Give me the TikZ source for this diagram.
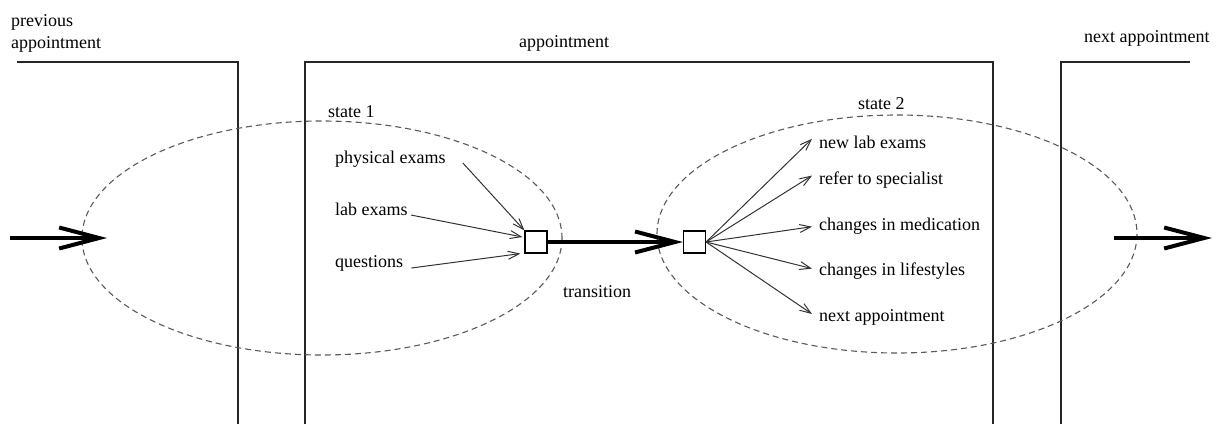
\documentclass[tikz,border=0pt]{standalone}
\usepackage{fontspec}
\setmainfont{Liberation Serif}
\usetikzlibrary{arrows.meta}
\begin{document}
\begin{tikzpicture}[x=1pt,y=-1pt,
  lbl/.style={anchor=base west, inner sep=0pt, font=\fontsize{18}{20}\selectfont, text=black},
  frame/.style={line width=1.4pt, draw=black!85},
  region/.style={dash pattern=on 6pt off 4pt, line width=1.1pt, draw=black!65},
  gate/.style={draw, line width=1.2pt, minimum size=22pt, inner sep=0pt, fill=white},
  thinarrow/.style={line width=1pt, draw=black!80, -{Straight Barb[length=11pt,width=8pt]}},
  flow/.style={line width=4pt, -{Straight Barb[length=40pt,width=21pt]}}
]
\useasboundingbox (0,0) rectangle (1227,424);

% appointment frames
\draw[frame] (17,62) -- (238,62) -- (238,424);
\draw[frame] (305,424) -- (305,62) -- (993,62) -- (993,424);
\draw[frame] (1061,424) -- (1061,62) -- (1190,62);

\node[lbl] (prevA) at (11,26) {previous};
\node[lbl] (prevB) at (11,48) {appointment};
\node[lbl, anchor=base] (appt) at (564,47) {appointment};
\node[lbl] (nextappt) at (1084,42) {next appointment};

% states
\draw[region] (322,238) ellipse [x radius=240, y radius=117];
\draw[region] (897,234) ellipse [x radius=240, y radius=119];
\node[lbl] (s1) at (328,117) {state 1};
\node[lbl] (s2) at (858,109) {state 2};

% transition gates
\node[gate] (g1) at (536,242) {};
\node[gate] (g2) at (694.5,242) {};
\draw[flow] (g1.east) -- (g2.west);
\node[lbl] (trans) at (563,297) {transition};

% inputs of state 1
\node[lbl] (phys) at (335,163) {physical exams};
\node[lbl] (lab) at (335,215) {lab exams};
\node[lbl] (quest) at (335,267) {questions};
\draw[thinarrow] ([shift={(17,0)}]phys.base east) -- (g1.north west);
\draw[thinarrow] ([shift={(3,0)}]lab.base east) -- ([shift={(-2,-5)}]g1.west);
\draw[thinarrow] ([shift={(8,1)}]quest.base east) -- ([shift={(-4,0)}]g1.south west);

% outcomes of state 2
\node[lbl] (newlab) at (819,148) {new lab exams};
\node[lbl] (refer) at (819,184) {refer to specialist};
\node[lbl] (med) at (819,230) {changes in medication};
\node[lbl] (life) at (819,275) {changes in lifestyles};
\node[lbl] (nexta) at (819,321) {next appointment};
\draw[thinarrow] (g2.east) -- ([shift={(-7,-3)}]newlab.west);
\draw[thinarrow] (g2.east) -- ([shift={(-7,-4)}]refer.west);
\draw[thinarrow] (g2.east) -- ([shift={(-7,1)}]med.west);
\draw[thinarrow] (g2.east) -- ([shift={(-7,-2)}]life.west);
\draw[thinarrow] (g2.east) -- ([shift={(-7,-3)}]nexta.west);

% flow in and out of the appointment
\coordinate (inStart) at (10,238);
\coordinate (inEnd) at (107,238);
\coordinate (outStart) at (1114,238);
\coordinate (outEnd) at (1212,238);
\draw[flow] (inStart) -- (inEnd);
\draw[flow] (outStart) -- (outEnd);
\end{tikzpicture}
\end{document}
